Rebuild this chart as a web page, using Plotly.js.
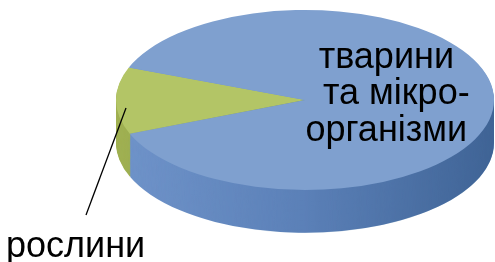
<!DOCTYPE html>
<html>
<head>
<meta charset="utf-8">
<script src="https://cdn.plot.ly/plotly-3.0.1.min.js"></script>
<style>
html,body{margin:0;padding:0;width:495px;height:262px;overflow:hidden;background:#fff;}
.pie{position:absolute;left:0;top:0;width:495px;height:500px;transform-origin:0 0;transform:scaleY(0.476);}
#shade{position:absolute;left:0;top:0;width:495px;height:262px;mix-blend-mode:multiply;
  background:linear-gradient(to right,#ffffff 0px,#ffffff 116px,#cfdde8 305px,#90acbd 494px);
  clip-path:path('M116,100 L116,143 A189,90 0 0 0 494,143 L494,100 Z');}
#lab{position:absolute;left:0;top:0;width:495px;height:262px;}
</style>
</head>
<body>
<div id="side" class="pie"></div>
<div id="shade"></div>
<div id="top" class="pie"></div>
<div id="lab"></div>
<script>
// data
const categories = ["рослини", "тварини та мікроорганізми"];
const values = [12, 88];
const topColors = ["#B3C566", "#7FA0CF"];
const sideColors = ["#A0B152", "#7094CA"];
const labelLines = ["тварини", "\u00A0\u00A0та мікро-", "організми"];
const outsideLabel = "рослини";

// geometry (pre-scale pixels in a 495x500 box)
const W = 495, H = 500;
const cx = 305, R = 189, cyTop = 210, depth = 90, rot = -112;
const xd = [(cx - R) / W, (cx + R) / W];
function ydom(cy) { return [(H - (cy + R)) / H, (H - (cy - R)) / H]; }
function pieTrace(colors, cy) {
  return {
    type: "pie", labels: categories, values: values, sort: false,
    direction: "counterclockwise", rotation: rot,
    marker: {colors: colors, line: {width: 0}},
    textinfo: "none", hoverinfo: "skip", showlegend: false,
    domain: {x: xd, y: ydom(cy)}
  };
}
const baseLayout = {
  width: W, height: H, margin: {l: 0, r: 0, t: 0, b: 0},
  paper_bgcolor: "rgba(0,0,0,0)", plot_bgcolor: "rgba(0,0,0,0)", showlegend: false
};
const sideTraces = [];
for (let off = depth; off > 0; off -= 2) sideTraces.push(pieTrace(sideColors, cyTop + off));
Plotly.newPlot("side", sideTraces, baseLayout, {staticPlot: true, displayModeBar: false});
Plotly.newPlot("top", [pieTrace(topColors, cyTop)], baseLayout, {staticPlot: true, displayModeBar: false});

const fam = "Liberation Sans, Arial, sans-serif";
const big = s => '<span style="font-size:36px">' + s + '</span>';
const ann = [
  {x: 386, y: 92, xref: "x", yref: "y", text: labelLines.map(big).join("<br>"), showarrow: false,
   xanchor: "center", yanchor: "middle", align: "center", font: {family: fam, size: 28, color: "#000"}},
  {x: 4, y: 244, xref: "x", yref: "y", text: big(outsideLabel), showarrow: false,
   xanchor: "left", yanchor: "middle", font: {family: fam, size: 28, color: "#000"}}
];

Plotly.newPlot("lab", [], {
  width: 495, height: 262, margin: {l: 0, r: 0, t: 0, b: 0},
  paper_bgcolor: "rgba(0,0,0,0)", plot_bgcolor: "rgba(0,0,0,0)",
  xaxis: {range: [0, 495], visible: false, fixedrange: true},
  yaxis: {range: [262, 0], visible: false, fixedrange: true},
  annotations: ann,
  shapes: [{type: "line", xref: "x", yref: "y", x0: 86, y0: 215, x1: 126, y1: 108,
    line: {color: "#000", width: 1.3}}]
}, {staticPlot: true, displayModeBar: false});
</script>
</body>
</html>
